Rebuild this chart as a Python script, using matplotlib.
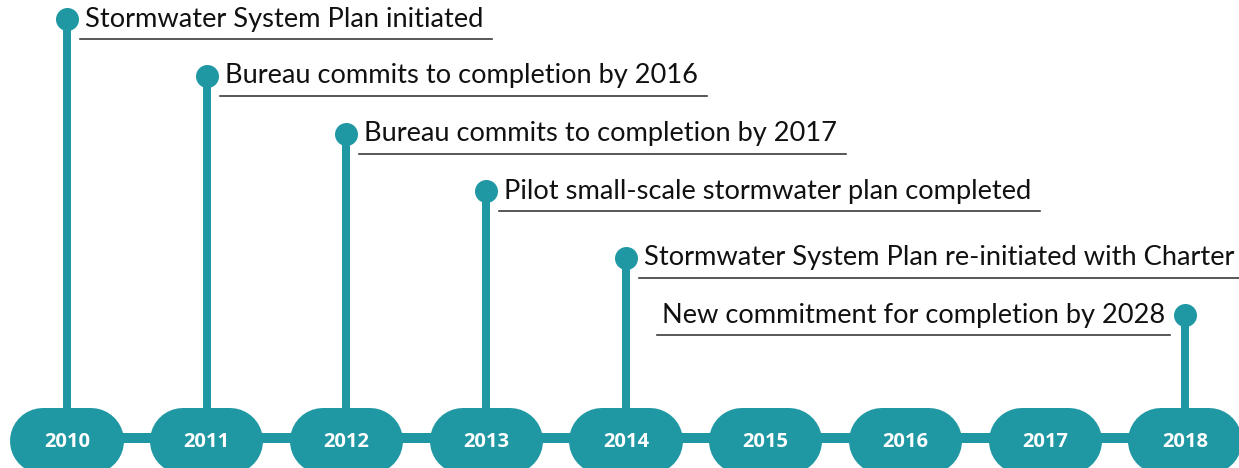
import matplotlib
matplotlib.use("Agg")
import matplotlib.pyplot as plt

# ---- data ----
years = [2010, 2011, 2012, 2013, 2014, 2015, 2016, 2017, 2018]
event_years = [2010, 2011, 2012, 2013, 2014, 2018]
event_labels = [
    "Stormwater System Plan initiated",
    "Bureau commits to completion by 2016",
    "Bureau commits to completion by 2017",
    "Pilot small-scale stormwater plan completed",
    "Stormwater System Plan re-initiated with Charter",
    "New commitment for completion by 2028",
]
# ---- layout (pixel rows from top) ----
event_rows = [19, 76, 134, 191, 258, 315]
event_side = ["right", "right", "right", "right", "right", "left"]

TEAL = "#1f98a3"
W, H = 1239, 468
DPI = 100
PX = 72.0 / DPI  # points per pixel

fig = plt.figure(figsize=(W / DPI, H / DPI), dpi=DPI)
ax = fig.add_axes([0, 0, 1, 1])
ax.set_axis_off()
x_left_px, x_right_px = 67, 1185
ppy = (x_right_px - x_left_px) / (years[-1] - years[0])
ax.set_xlim(years[0] - x_left_px / ppy, years[-1] + (W - x_right_px) / ppy)
ax.set_ylim(H, 0)

pill_y = 441
# connecting line
ax.plot([years[0], years[-1]], [438, 438], color=TEAL, lw=10 * PX, zorder=1)
# pills
half = 23.5 / ppy
for y in years:
    ax.plot([y - half, y + half], [pill_y, pill_y], color=TEAL, lw=66 * PX,
            solid_capstyle="round", zorder=2)
    ax.text(y, pill_y + 1, str(y), color="white", fontsize=14.5, fontweight="bold",
            family="Open Sans", ha="center", va="center", zorder=3)

# stems and markers
fig.canvas.draw()
renderer = fig.canvas.get_renderer()
inv = ax.transData.inverted()
for yr, lab, row, side in zip(event_years, event_labels, event_rows, event_side):
    ax.plot([yr, yr], [row, pill_y], color=TEAL, lw=8 * PX, zorder=2,
            solid_capstyle="butt")
    ax.plot([yr], [row], "o", color=TEAL, ms=23 * PX, mew=0, zorder=3)
    if side == "right":
        t = ax.annotate(lab, (yr, row), xytext=(18 * PX, 0), textcoords="offset points",
                        ha="left", va="center", fontsize=19.6, family="Lato",
                        color="#111111")
    else:
        t = ax.annotate(lab, (yr, row), xytext=(-20 * PX, 0), textcoords="offset points",
                        ha="right", va="center", fontsize=19.6, family="Lato",
                        color="#111111")
    bb = t.get_window_extent(renderer)
    x0 = inv.transform((bb.x0 - 5, 0))[0]
    if side == "right":
        x1 = inv.transform((bb.x1 + 9, 0))[0]
    else:
        x1 = yr - 15 / ppy
    ax.plot([x0, x1], [row + 20, row + 20], color="#333333", lw=1.6 * PX, zorder=2)

fig.savefig("out.png", dpi=DPI)
